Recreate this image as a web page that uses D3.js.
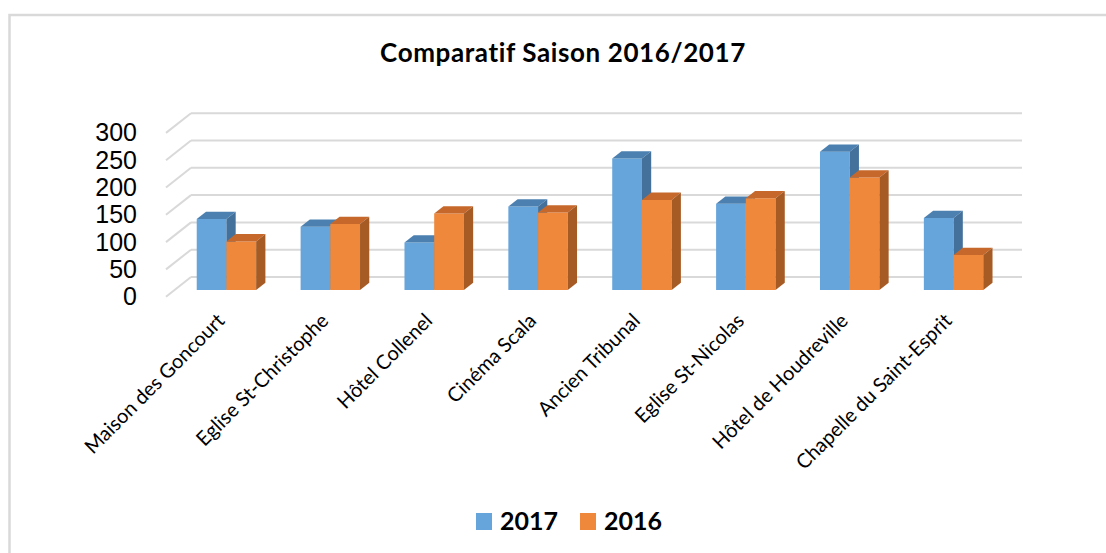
<!DOCTYPE html>
<html>
<head>
<meta charset="utf-8">
<script src="https://cdn.jsdelivr.net/npm/d3@7"></script>
<style>
  body { margin: 0; background: #fff; }
  text { fill: #000; }
</style>
</head>
<body>
<div id="content"></div>
<script>
let width = 1106;
let height = 553;

// Data
let categories = ["Maison des Goncourt", "Eglise St-Christophe", "Hôtel Collenel", "Cinéma Scala",
    "Ancien Tribunal", "Eglise St-Nicolas", "Hôtel de Houdreville", "Chapelle du Saint-Esprit"];
let seriesNames = ["2017", "2016"];
let values2017 = [130, 116, 87, 153, 241, 158, 253, 132];
let values2016 = [89, 121, 140, 142, 165, 168, 206, 64];
let yTicks = [0, 50, 100, 150, 200, 250, 300];

// Front face / top / side colours per series
let colors = {
    "2017": {front: "#66a5db", top: "#4b80b1", side: "#43719b"},
    "2016": {front: "#ef883a", top: "#c6682b", side: "#a75b24"}
};

// Oblique 3D set-up: the front plane of the floor, plus a depth vector
let plot = {left: 166, right: 997, zero: 296.7, top: 132.9};
let depth = {dx: 25, dy: 19.7};
let barDepth = [0.34, 0.71]; // front and back of the bars, as fraction of floor depth

let svg = d3.select("#content")
    .append("svg")
    .attr("width", width)
    .attr("height", height);

// Chart border (only left and top are inside the frame)
svg.append("rect")
    .attr("x", 9.5).attr("y", 15)
    .attr("width", 1140).attr("height", 600)
    .attr("fill", "none")
    .attr("stroke", "#d9d9d9")
    .attr("stroke-width", 2.5);

let xScale = d3.scaleBand()
    .domain(categories)
    .range([plot.left, plot.right])
    .paddingInner(0.428)
    .paddingOuter(0.214);

let xSeries = d3.scaleBand()
    .domain(seriesNames)
    .range([0, xScale.bandwidth()]);

let yScale = d3.scaleLinear()
    .domain([0, 300])
    .range([plot.zero, plot.top]);

// project a point (x on front plane, value, depth fraction) to the screen
function proj(x, v, d) {
    return [x + depth.dx * d, yScale(v) - depth.dy * d];
}

// Gridlines: side wall diagonals and back wall horizontals
let grid = svg.append("g").attr("class", "grid")
    .attr("stroke", "#d9d9d9")
    .attr("stroke-width", 2)
    .attr("fill", "none");

grid.selectAll(".side")
    .data(yTicks)
    .enter().append("line")
    .attr("x1", plot.left).attr("y1", d => yScale(d))
    .attr("x2", plot.left + depth.dx).attr("y2", d => yScale(d) - depth.dy);

grid.selectAll(".back")
    .data(yTicks)
    .enter().append("line")
    .attr("x1", plot.left + depth.dx).attr("y1", d => yScale(d) - depth.dy)
    .attr("x2", plot.right + depth.dx).attr("y2", d => yScale(d) - depth.dy);

// Y axis labels
let yAxis = d3.axisLeft(yScale)
    .tickValues(yTicks)
    .tickSize(0)
    .tickPadding(29);

svg.append("g")
    .attr("class", "y axis")
    .attr("transform", "translate(" + plot.left + ",0)")
    .call(yAxis)
    .call(g => g.select(".domain").remove())
    .selectAll("text")
    .attr("font-family", "Liberation Sans, Arial, sans-serif")
    .attr("font-size", 25)
    .attr("fill", "#000");

// Bars, left to right, 2017 then 2016
let barData = [];
categories.forEach(function(c, i) {
    barData.push({cat: c, series: "2017", value: values2017[i]});
    barData.push({cat: c, series: "2016", value: values2016[i]});
});

function poly(pts) {
    return pts.map(p => p.join(",")).join(" ");
}

let bars = svg.append("g").attr("class", "bars")
    .selectAll("g")
    .data(barData)
    .enter().append("g");

bars.each(function(d) {
    let g = d3.select(this);
    let x0 = xScale(d.cat) + xSeries(d.series);
    let x1 = x0 + xSeries.bandwidth();
    let f = barDepth[0], b = barDepth[1];
    let c = colors[d.series];

    // front face
    g.append("polygon")
        .attr("points", poly([proj(x0, 0, f), proj(x1, 0, f), proj(x1, d.value, f), proj(x0, d.value, f)]))
        .attr("fill", c.front);
    // top face
    g.append("polygon")
        .attr("points", poly([proj(x0, d.value, f), proj(x1, d.value, f), proj(x1, d.value, b), proj(x0, d.value, b)]))
        .attr("fill", c.top);
    // right side face
    g.append("polygon")
        .attr("points", poly([proj(x1, 0, f), proj(x1, 0, b), proj(x1, d.value, b), proj(x1, d.value, f)]))
        .attr("fill", c.side);
});

// Category labels, rotated
svg.append("g")
    .attr("class", "x labels")
    .selectAll("text")
    .data(categories)
    .enter().append("text")
    .attr("transform", d => "translate(" + (xScale(d) + xScale.bandwidth() / 2 + 8) + ",322) rotate(-45)")
    .attr("text-anchor", "end")
    .attr("font-family", "Lato, sans-serif")
    .attr("font-size", 20)
    .text(d => d);

// Title
svg.append("text")
    .attr("x", 563)
    .attr("y", 62)
    .attr("text-anchor", "middle")
    .attr("font-family", "Lato, sans-serif")
    .attr("font-weight", "bold")
    .attr("font-size", 26)
    .attr("letter-spacing", 0.6)
    .text("Comparatif Saison 2016/2017");

// Legend
let legend = svg.append("g")
    .attr("class", "legend")
    .selectAll("g")
    .data(seriesNames)
    .enter().append("g")
    .attr("transform", (d, i) => "translate(" + (476 + i * 104) + ",513)");

legend.append("rect")
    .attr("width", 16).attr("height", 17)
    .attr("fill", d => colors[d].front);

legend.append("text")
    .attr("x", 24)
    .attr("y", 17)
    .attr("font-family", "Lato, sans-serif")
    .attr("font-weight", "bold")
    .attr("font-size", 25)
    .text(d => d);
</script>
</body>
</html>
